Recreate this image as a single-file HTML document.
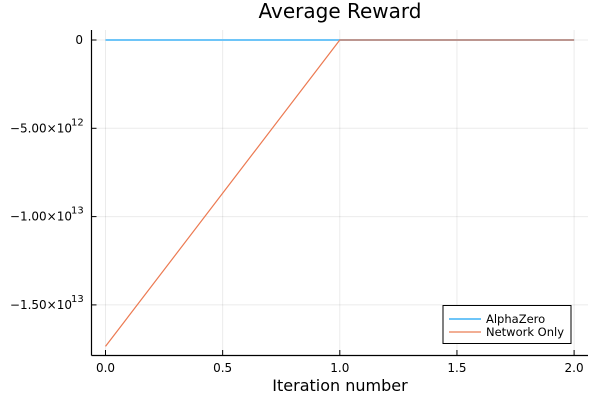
<!DOCTYPE html>
<html><head><meta charset="utf-8"><style>
body{margin:0;background:#fff;font-family:"Liberation Sans","DejaVu Sans",sans-serif}
</style></head><body>
<svg id="chart" width="600" height="400" xmlns="http://www.w3.org/2000/svg" font-family="'DejaVu Sans','Liberation Sans',sans-serif">
<rect width="600" height="400" fill="#fff"/>
<text x="340" y="18" font-size="20" text-anchor="middle" fill="#000">Average Reward</text>
<g id="grid"></g>
<g id="series"></g>
<line x1="91.5" y1="355.5" x2="588" y2="355.5" stroke="#000" stroke-width="1.2"/>
<line x1="91.5" y1="30" x2="91.5" y2="355.5" stroke="#000" stroke-width="1.2"/>
<g id="ticks" font-size="12"></g>
<text x="340" y="391" font-size="16" text-anchor="middle">Iteration number</text>
<g>
<rect x="443" y="305.5" width="128" height="38" fill="#fff" stroke="#000" stroke-width="1"/>
<line x1="449" y1="319" x2="481" y2="319" stroke="#6ec5f8" stroke-width="2"/>
<text x="486" y="323" font-size="11.5">AlphaZero</text>
<line x1="449" y1="332" x2="481" y2="332" stroke="#f2ae94" stroke-width="2"/>
<text x="486" y="336" font-size="11.5">Network Only</text>
</g>
</svg>
<script>
const iterations=[0,1,2];
const alphaZero=[0,0,0];
const networkOnly=[-1.735e13,0,0];
const xTicks=[0,0.5,1,1.5,2];
const xTickLabels=["0.0","0.5","1.0","1.5","2.0"];
const yTicks=[0,-5e12,-1e13,-1.5e13];
const yTickMant=["0","\u22125.00\u00d710","\u22121.00\u00d710","\u22121.50\u00d710"];
const yTickExp=["","12","13","13"];
const NS="http://www.w3.org/2000/svg";
const xs=v=>105.5+v*234.3;
const ys=v=>40-v/5e12*88.3;
function mk(tag,attrs,parent){const e=document.createElementNS(NS,tag);for(const k in attrs)e.setAttribute(k,attrs[k]);parent.appendChild(e);return e;}
const grid=document.getElementById('grid'),ticks=document.getElementById('ticks'),series=document.getElementById('series');
xTicks.forEach((t,i)=>{
 const g=mk('line',{x1:xs(t),x2:xs(t),y1:30,y2:355,stroke:'#000','stroke-opacity':0.08},grid);
 
 
 mk('line',{x1:xs(t),x2:xs(t),y1:355,y2:350,stroke:'#000'},ticks);
 const l=mk('text',{x:xs(t),y:372,'text-anchor':'middle'},ticks);l.textContent=xTickLabels[i];
 
 
});
yTicks.forEach((t,i)=>{
 const g=mk('line',{x1:91.5,x2:588,y1:ys(t),y2:ys(t),stroke:'#000','stroke-opacity':0.08},grid);
 
 
 mk('line',{x1:91.5,x2:96.5,y1:ys(t),y2:ys(t),stroke:'#000'},ticks);
 const l=mk('text',{x:yTickExp[i]?72:83,y:ys(t)+4,'text-anchor':'end'},ticks);l.textContent=yTickMant[i];
 
 
 if(yTickExp[i]){const e=mk('text',{x:71,y:ys(t)-3,'font-size':10},ticks);e.textContent=yTickExp[i];}
});
function line(vals,color,w,name){
 const p=mk('polyline',{points:vals.map((v,i)=>xs(iterations[i])+','+ys(v)).join(' '),fill:'none',stroke:color,'stroke-width':w},series);
 
 
}
line(alphaZero,'#6ec5f8',2,'alphazero-line');
line(networkOnly,'#ec7a52',1.2,'network-only-line');
</script>
</body></html>
